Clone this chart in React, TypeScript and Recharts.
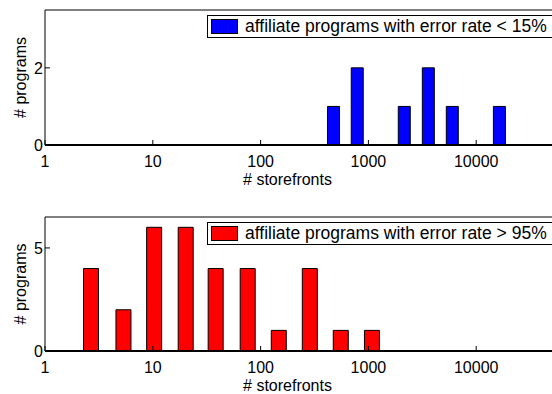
import React from "react";
import { BarChart, Bar, XAxis, YAxis, Legend } from "recharts";

// histogram bins (bin centres in # storefronts) and counts per bin
const LOW_ERR_BINS = [470, 780, 1280, 2130, 3560, 5940, 9930, 16250];
const LOW_ERR_COUNTS = [1, 2, 0, 1, 2, 1, 0, 1];

const HIGH_ERR_BINS = [2.7, 5.4, 10.4, 20.4, 38.7, 76.7, 149, 289, 560, 1090];
const HIGH_ERR_COUNTS = [4, 2, 6, 6, 4, 4, 1, 4, 1, 1];

const X_TICKS = [1, 10, 100, 1000, 10000];
const LOW_Y_TICKS = [0, 2];
const HIGH_Y_TICKS = [0, 5];

const FONT = '"Liberation Sans", Arial, Helvetica, sans-serif';

type LegendItem = { value?: string; color?: string };

const BoxLegend = ({ payload }: { payload?: LegendItem[] }) => {
  const item = payload && payload[0];
  if (!item) return null;
  return (
    <div
      style={{
        display: "flex",
        alignItems: "center",
        height: 21,
        border: "1px solid #000",
        background: "#fff",
        paddingLeft: 3,
        fontFamily: FONT,
        whiteSpace: "nowrap",
      }}
    >
      <span
        style={{
          display: "inline-block",
          width: 25,
          height: 13,
          background: item.color,
          border: "1px solid #000",
        }}
      />
      <span style={{ marginLeft: 7, fontSize: 17.5, color: "#000" }}>{item.value}</span>
    </div>
  );
};

type PanelProps = {
  bins: number[];
  counts: number[];
  color: string;
  name: string;
  yMax: number;
  yTicks: number[];
  barSize: number;
  height: number;
};

const Panel = ({ bins, counts, color, name, yMax, yTicks, barSize, height }: PanelProps) => {
  const data = bins.map((x, i) => ({ x, count: counts[i] }));
  const tickStyle = { fill: "#000", fontSize: 16, fontFamily: FONT };
  return (
    <BarChart width={584} height={height} data={data} margin={{ top: 0, right: 0, bottom: 0, left: 0 }}>
      <XAxis
        dataKey="x"
        type="number"
        scale="log"
        domain={[1, 100000]}
        allowDataOverflow
        ticks={X_TICKS}
        interval={0}
        tickFormatter={(v: number) => String(v)}
        tick={tickStyle}
        height={50}
        tickSize={-5}
        tickMargin={16}
        axisLine={{ stroke: "#000", strokeWidth: 2 }}
        tickLine={{ stroke: "#000" }}
        label={{
          value: "# storefronts",
          position: "insideBottom",
          offset: 10,
          dx: -27,
          fill: "#000",
          fontSize: 16,
          fontFamily: FONT,
        }}
      />
      <XAxis
        xAxisId="top"
        orientation="top"
        type="number"
        scale="log"
        domain={[1, 100000]}
        allowDataOverflow
        ticks={X_TICKS}
        interval={0}
        tick={false}
        height={10}
        tickSize={-5}
        axisLine={{ stroke: "#000" }}
        tickLine={{ stroke: "#000" }}
      />
      <YAxis
        type="number"
        domain={[0, yMax]}
        allowDataOverflow
        ticks={yTicks}
        interval={0}
        width={45}
        tick={tickStyle}
        tickSize={-5}
        tickMargin={7}
        axisLine={{ stroke: "#000" }}
        tickLine={{ stroke: "#000" }}
        label={{
          value: "# programs",
          angle: -90,
          position: "insideLeft",
          offset: 20,
          fill: "#000",
          fontSize: 16,
          fontFamily: FONT,
          style: { textAnchor: "middle" },
        }}
      />
      <Legend
        layout="horizontal"
        verticalAlign="middle"
        align="center"
        content={<BoxLegend />}
        wrapperStyle={{ left: 207, top: 15, width: 420 }}
      />
      <Bar
        dataKey="count"
        name={name}
        fill={color}
        stroke="#000"
        strokeWidth={1}
        barSize={barSize}
        isAnimationActive={false}
      />
    </BarChart>
  );
};

export default function App() {
  return (
    <div
      style={{
        position: "fixed",
        left: 0,
        top: 0,
        width: 552,
        height: 394,
        overflow: "hidden",
        background: "#fff",
        fontFamily: FONT,
      }}
    >
      <div style={{ position: "absolute", left: 0, top: 0 }}>
        <Panel
          bins={LOW_ERR_BINS}
          counts={LOW_ERR_COUNTS}
          color="#0000ff"
          name="affiliate programs with error rate < 15%"
          yMax={3.5}
          yTicks={LOW_Y_TICKS}
          barSize={12}
          height={195}
        />
      </div>
      <div style={{ position: "absolute", left: 0, top: 207 }}>
        <Panel
          bins={HIGH_ERR_BINS}
          counts={HIGH_ERR_COUNTS}
          color="#ff0000"
          name="affiliate programs with error rate > 95%"
          yMax={6.5}
          yTicks={HIGH_Y_TICKS}
          barSize={15}
          height={194}
        />
      </div>
    </div>
  );
}
